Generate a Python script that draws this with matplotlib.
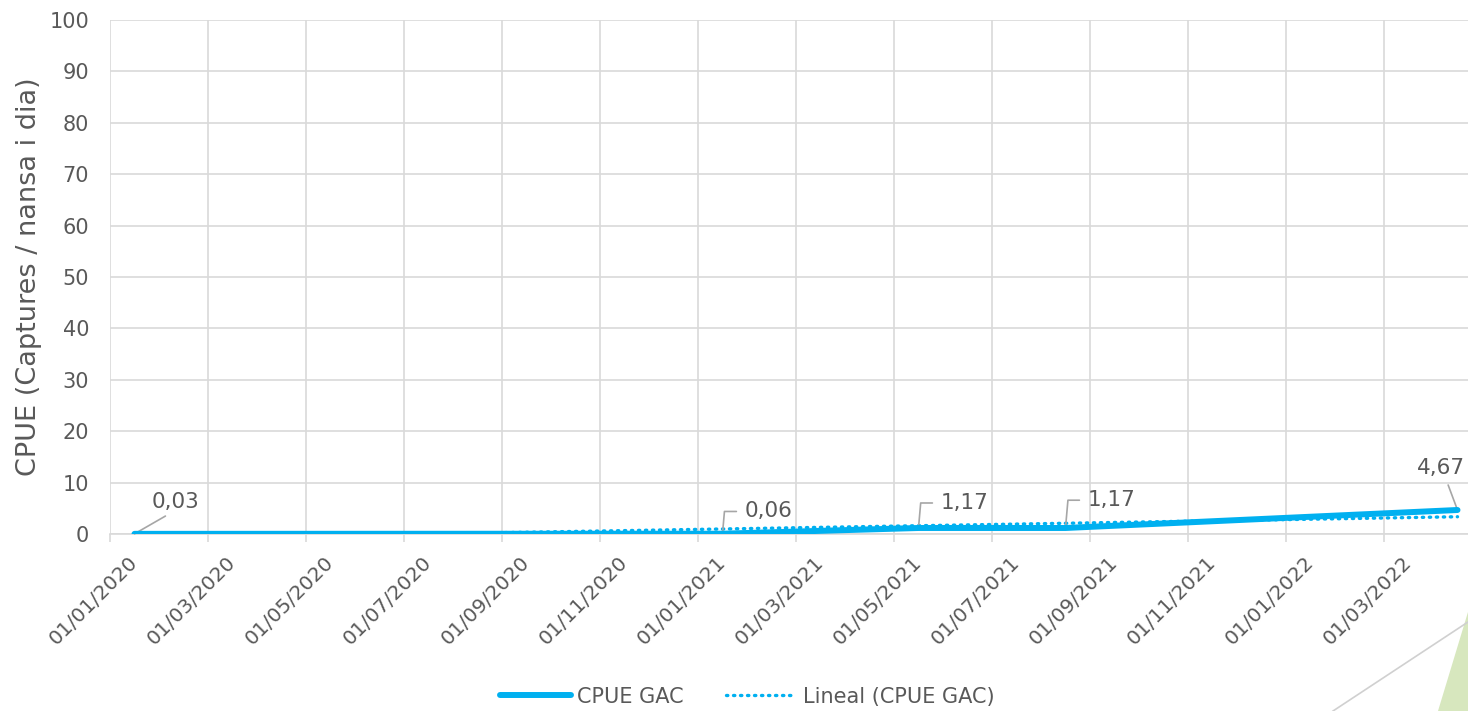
import numpy as np
import matplotlib
matplotlib.use('Agg')
import matplotlib.pyplot as plt
from matplotlib.lines import Line2D
from matplotlib.patches import Polygon

# CPUE GAC samples (month of sampling, value)
dates = ["01/01/2020", "01/01/2021", "01/05/2021", "01/08/2021", "01/04/2022"]
cpue = [0.03, 0.06, 1.17, 1.17, 4.67]
labels = ["0,03", "0,06", "1,17", "1,17", "4,67"]
tick_dates = ["01/01/2020", "01/03/2020", "01/05/2020", "01/07/2020", "01/09/2020",
              "01/11/2020", "01/01/2021", "01/03/2021", "01/05/2021", "01/07/2021",
              "01/09/2021", "01/11/2021", "01/01/2022", "01/03/2022"]

BLUE = "#00B0F0"
TXT = "#595959"
GRID = "#D9D9D9"

plt.rcParams['font.family'] = ['DejaVu Sans']


def month_pos(s):
    # Excel date axis with base unit = months, points centred in their month slot
    d, m, y = s.split("/")
    return (int(y) - 2020) * 12 + int(m) - 1 + 0.5


x = np.array([month_pos(s) for s in dates])
y = np.array(cpue)

fig = plt.figure(figsize=(14.68, 7.11), dpi=100)
ax = fig.add_axes([110 / 1468, 177 / 711, 1372 / 1468, 514 / 711])

ax.plot(x, y, color=BLUE, lw=4.3, solid_capstyle='round', zorder=4)

# linear trendline
coef = np.polyfit(x, y, 1)
xt = np.linspace(x[0], x[-1], 200)
ax.plot(xt, np.polyval(coef, xt), color=BLUE, lw=2.4, linestyle=(0, (0.4, 1.7)),
        dash_capstyle='round', zorder=3)

# data labels with leader lines
offsets = [(12, 23), (16, 16), (16, 18), (16, 20), (-12, 30)]
for xi, yi, lab, off in zip(x, y, labels, offsets):
    if lab == "0,03":
        ax.annotate(lab, (xi, yi), xytext=off, textcoords='offset points',
                    ha='left', va='center', fontsize=15.5, color=TXT,
                    arrowprops=dict(arrowstyle='-', color='#A6A6A6', lw=1.2,
                                    relpos=(0.45, 0), shrinkA=2, shrinkB=0))
    elif off[0] > 0:
        ax.annotate(lab, (xi, yi), xytext=off, textcoords='offset points',
                    ha='left', va='center', fontsize=15.5, color=TXT,
                    arrowprops=dict(arrowstyle='-', color='#A6A6A6', lw=1.2,
                                    connectionstyle='angle,angleA=0,angleB=85,rad=0',
                                    relpos=(0, 0.5), shrinkA=4, shrinkB=1))
    else:
        ax.annotate(lab, (xi, yi), xytext=off, textcoords='offset points',
                    ha='center', va='center', fontsize=15.5, color=TXT,
                    arrowprops=dict(arrowstyle='-', color='#A6A6A6', lw=1.2,
                                    relpos=(0.6, 0), shrinkA=3, shrinkB=1))

ax.set_xlim(0, 28)
ax.set_ylim(0, 100)
ax.set_yticks(np.arange(0, 101, 10))
ax.tick_params(axis='y', length=0, pad=15, labelsize=15, labelcolor=TXT)

# gridlines / tick marks at month-slot boundaries, labels at slot centres
ax.set_xticks(np.arange(0, 28, 2))
ax.set_xticklabels([])
ax.set_xticks([month_pos(s) for s in tick_dates], minor=True)
ax.set_xticklabels(tick_dates, minor=True, rotation=45, ha='right', va='center',
                   rotation_mode='anchor')
ax.tick_params(axis='x', which='major', length=6, color=GRID, width=1.2)
ax.tick_params(axis='x', which='minor', length=0, pad=18, labelsize=14.5, labelcolor=TXT)

ax.grid(True, which='major', color=GRID, lw=1.2)
ax.set_axisbelow(True)
for side in ['top', 'right']:
    ax.spines[side].set_visible(False)
ax.spines['left'].set_visible(False)
ax.spines['bottom'].set_color(GRID)
ax.spines['bottom'].set_linewidth(1.2)

ax.set_ylabel("CPUE (Captures / nansa i dia)", fontsize=19.5, color=TXT, labelpad=5)

handles = [Line2D([], [], color=BLUE, lw=4.3, solid_capstyle='round'),
           Line2D([], [], color=BLUE, lw=2.4, linestyle=(0, (0.4, 1.7)), dash_capstyle='round')]
fig.legend(handles, ["CPUE GAC", "Lineal (CPUE GAC)"], loc='center',
           bbox_to_anchor=(0.509, 0.02), ncol=2, frameon=False, fontsize=15,
           labelcolor=TXT, handlelength=3.4, handletextpad=0.3, columnspacing=2.0)

# slide decoration in the bottom-right corner
fig.add_artist(Polygon([[1438 / 1468, 0], [1.0, 99 / 711], [1.0, 0]], closed=True,
                       transform=fig.transFigure, facecolor='#D7E7BE', edgecolor='none'))
fig.add_artist(Line2D([1333 / 1468, 1.0], [0, 89 / 711], transform=fig.transFigure,
                      color='#D0D0D0', lw=1.2))

fig.savefig("out.png", dpi=100)
